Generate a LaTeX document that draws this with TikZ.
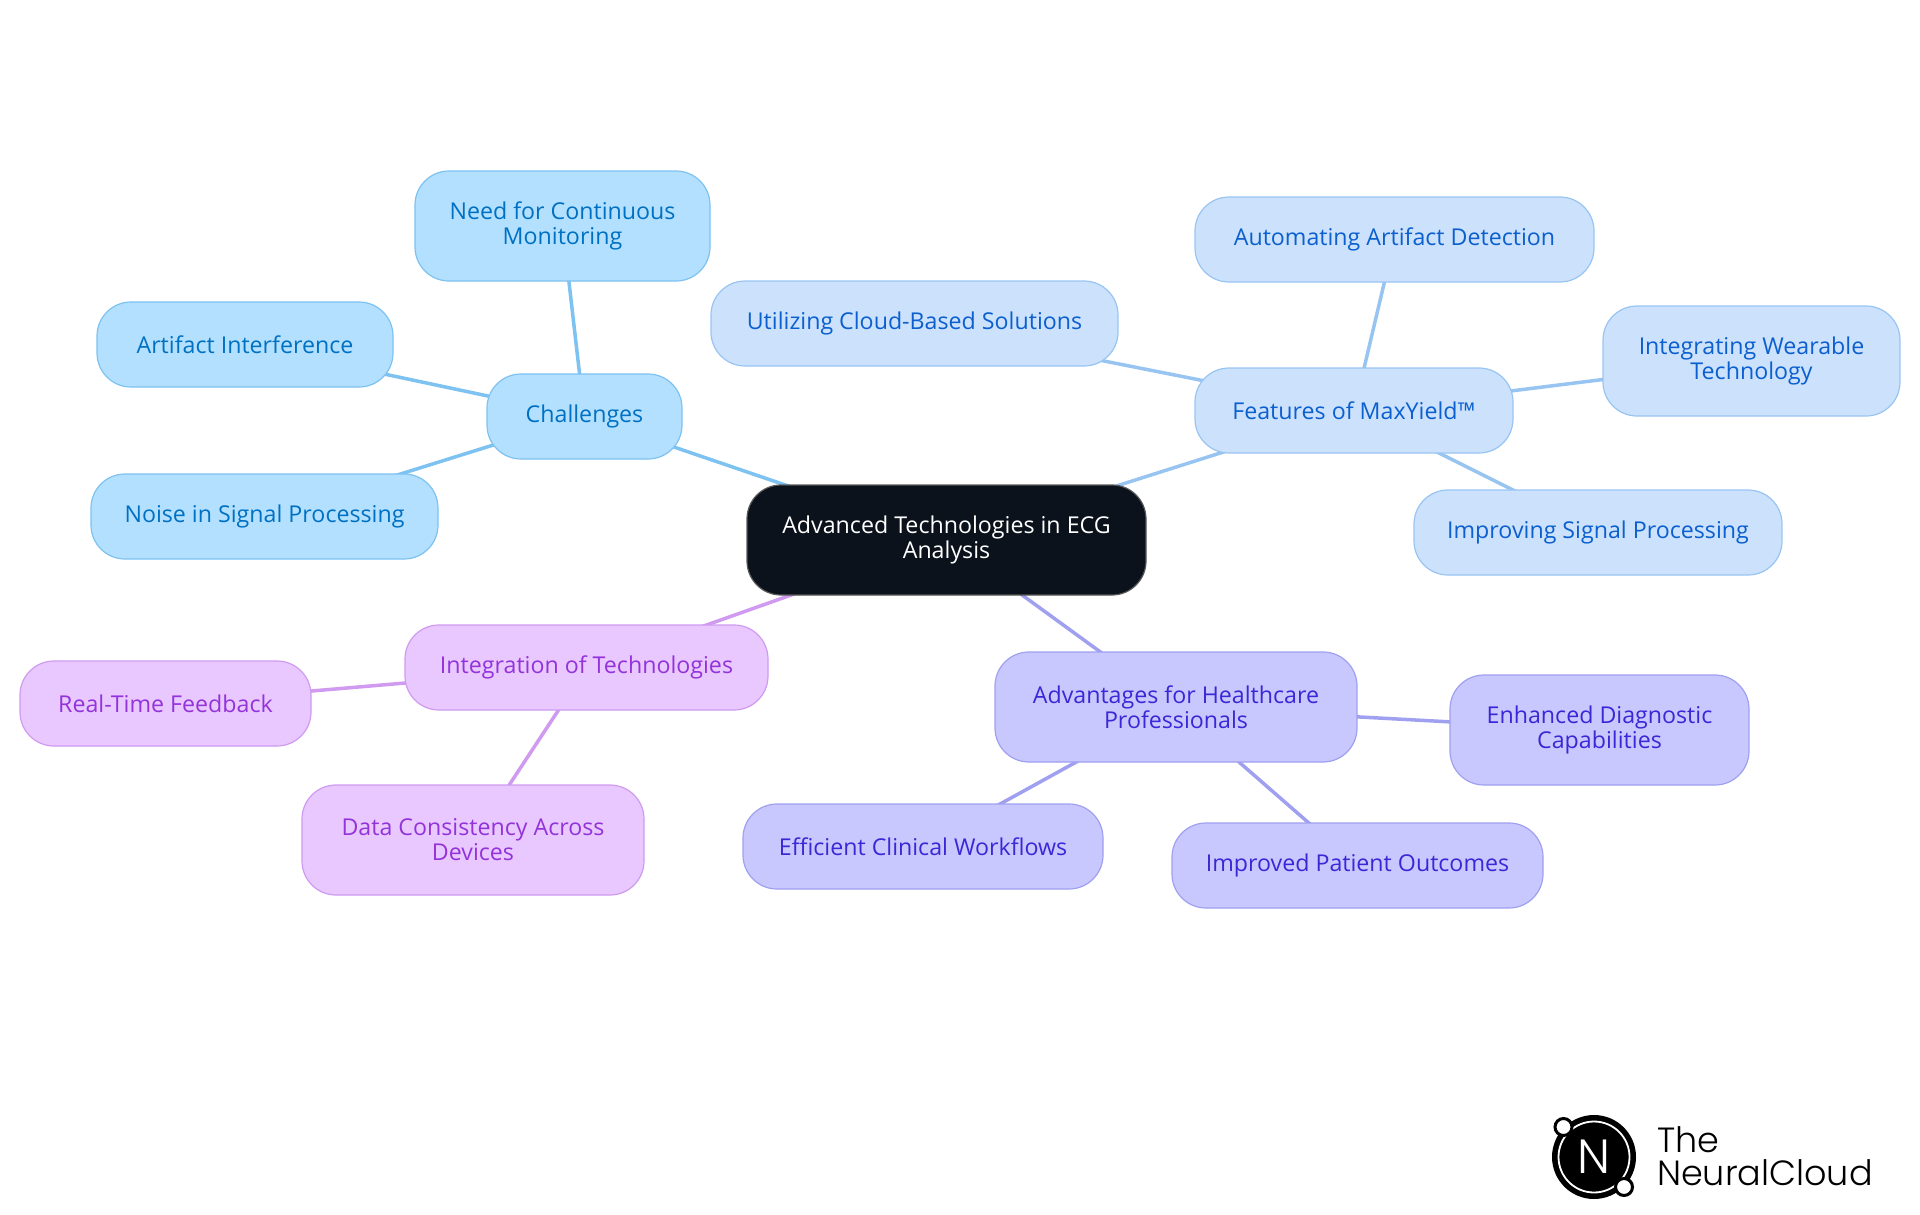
\documentclass[tikz,border=0pt]{standalone}
\usepackage{fontspec}
\setmainfont{Open Sans}
\newfontfamily\logofont{Poppins Light}
\usetikzlibrary{positioning}
\usetikzlibrary{backgrounds}
\definecolor{rootfill}{HTML}{0B121B}
\definecolor{challfill}{HTML}{B3E0FF}
\definecolor{challline}{HTML}{7DC2F0}
\definecolor{challtext}{HTML}{0071C2}
\definecolor{featfill}{HTML}{CCE2FC}
\definecolor{featline}{HTML}{98C4F2}
\definecolor{feattext}{HTML}{0B5FCE}
\definecolor{advfill}{HTML}{C8C8FF}
\definecolor{advline}{HTML}{A0A0F0}
\definecolor{advtext}{HTML}{3A28D6}
\definecolor{intfill}{HTML}{E8C8FF}
\definecolor{intline}{HTML}{CF9AF0}
\definecolor{inttext}{HTML}{9333D9}

\begin{document}
\begin{tikzpicture}[
		x=1pt, y=-1pt,
		mapbox/.style={rectangle, rounded corners=34pt, line width=1.2pt, inner sep=0pt, outer sep=0pt, align=center, minimum height=85pt, font=\fontsize{23.2}{25}\selectfont},
		tall/.style={minimum height=110pt},
		rootbox/.style={mapbox, draw=gray!70!black, fill=rootfill, text=white},
		challbox/.style={mapbox, draw=challline, fill=challfill, text=challtext},
		featbox/.style={mapbox, draw=featline, fill=featfill, text=feattext},
		advbox/.style={mapbox, draw=advline, fill=advfill, text=advtext},
		intbox/.style={mapbox, draw=intline, fill=intfill, text=inttext},
		link/.style={line width=3.5pt},
		logotext/.style={inner sep=0pt, anchor=base west, text=black, font=\logofont\fontsize{35}{35}\selectfont}
	]
		\useasboundingbox (0,0) rectangle (1920,1215);

		\node[rootbox, tall, minimum width=399pt] (root) at (946.5,540) {Advanced Technologies in ECG\\Analysis};

		\node[challbox, minimum width=195pt, above left=26pt and 65pt of root] (challenges) {Challenges};
		\node[challbox, tall, minimum width=295pt, above left=93pt and -223pt of challenges] (monitoring) {Need for Continuous\\Monitoring};
		\node[challbox, minimum width=296pt, above left=-13pt and 94pt of challenges] (artifact) {Artifact Interference};
		\node[challbox, minimum width=347pt, below left=15pt and 49pt of challenges] (noise) {Noise in Signal Processing};

		\node[featbox, minimum width=318pt, above right=32pt and 49pt of root] (features) {Features of MaxYield™};
		\node[featbox, minimum width=399pt, above right=86pt and -318pt of features] (automating) {Automating Artifact Detection};
		\node[featbox, minimum width=407pt, above left=2pt and 77pt of features] (cloud) {Utilizing Cloud-Based Solutions};
		\node[featbox, tall, minimum width=297pt, above right=-48pt and 90pt of features] (wearable) {Integrating Wearable\\Technology};
		\node[featbox, minimum width=368pt, below right=37pt and -99pt of features] (signal) {Improving Signal Processing};

		\node[advbox, tall, minimum width=362pt, below right=57pt and -151pt of root] (advantages) {Advantages for Healthcare\\Professionals};
		\node[advbox, tall, minimum width=299pt, below right=-87pt and 93pt of advantages] (diagnostic) {Enhanced Diagnostic\\Capabilities};
		\node[advbox, minimum width=360pt, below left=42pt and -108pt of advantages] (workflows) {Efficient Clinical Workflows};
		\node[advbox, minimum width=371pt, below right=61pt and -185pt of advantages] (outcomes) {Improved Patient Outcomes};

		\node[intbox, minimum width=363pt, below left=30pt and -21pt of root] (integration) {Integration of Technologies};
		\node[intbox, minimum width=291pt, below left=-49pt and 94pt of integration] (feedback) {Real-Time Feedback};
		\node[intbox, tall, minimum width=342pt, below left=75pt and -239pt of integration] (consistency) {Data Consistency Across\\Devices};

		\begin{pgfonlayer}{background}
			\foreach \from/\to in {root/challenges, challenges/monitoring, challenges/artifact, challenges/noise}
				\draw[link, challline] (\from.center) -- (\to.center);
			\foreach \from/\to in {root/features, features/automating, features/cloud, features/wearable, features/signal}
				\draw[link, featline] (\from.center) -- (\to.center);
			\foreach \from/\to in {root/advantages, advantages/diagnostic, advantages/workflows, advantages/outcomes}
				\draw[link, advline] (\from.center) -- (\to.center);
			\foreach \from/\to in {root/integration, integration/feedback, integration/consistency}
				\draw[link, intline] (\from.center) -- (\to.center);
		\end{pgfonlayer}

		% logo
		\node[circle, fill=black, minimum size=84pt, inner sep=0pt] (logodisc) at (1594,1157) {};
		\node[circle, draw=white, line width=1.8pt, minimum size=71pt, inner sep=0pt, text=white, font=\logofont\fontsize{48}{48}\selectfont] (logoring) at (logodisc.center) {N};
		\node[circle, draw=black, fill=white, line width=3pt, minimum size=17pt, inner sep=0pt] (logodota) at (1563.5,1127) {};
		\node[circle, draw=black, fill=white, line width=3pt, minimum size=17pt, inner sep=0pt] (logodotb) at (1624,1187) {};
		\node[logotext] (logothe) at (1657,1152) {The};
		\node[logotext] (logoname) at (1657,1185) {NeuralCloud};
	\end{tikzpicture}
\end{document}
